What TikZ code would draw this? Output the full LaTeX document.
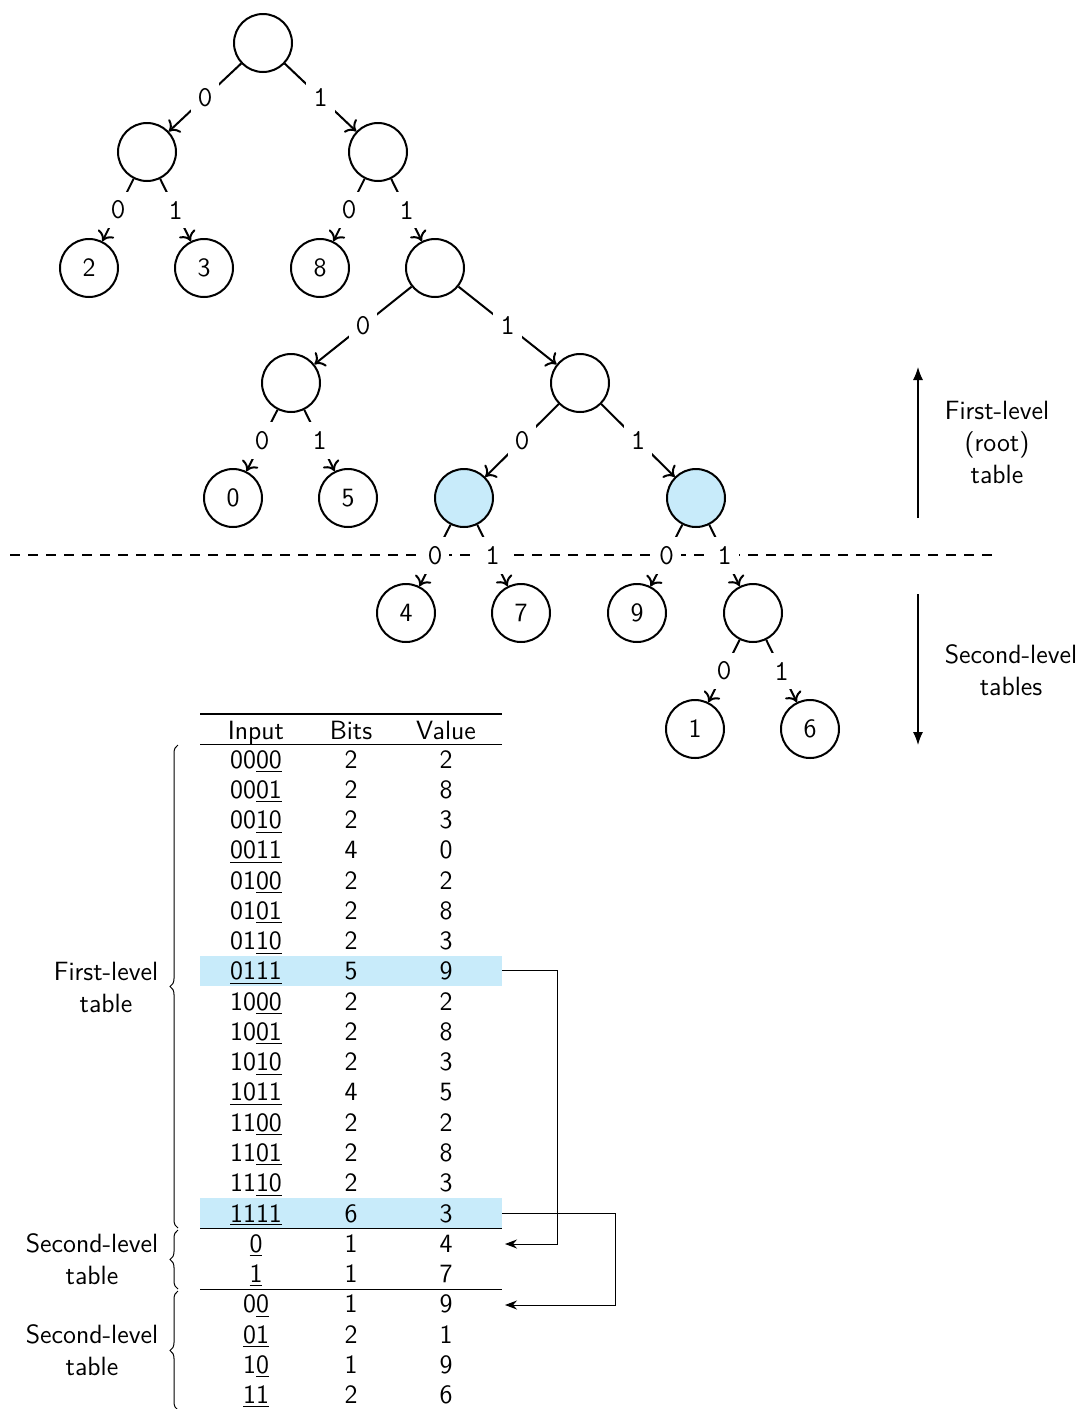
\documentclass[tikz,border=0pt]{standalone}
\usetikzlibrary{arrows.meta,decorations.pathreplacing}
\definecolor{hl}{RGB}{200,235,250}
\begin{document}
\begin{tikzpicture}[x=0.5pt,y=-0.5pt,
  every node/.style={font=\fontsize{13.2}{16}\selectfont\sffamily},
  tnode/.style={circle,draw,line width=1pt,minimum size=29pt,inner sep=0pt},
  inode/.style={tnode,fill=hl},
  tedge/.style={line width=1pt,-{To[length=4.5pt,width=9pt]}},
  blbl/.style={fill=white,inner xsep=3.5pt,inner ysep=4.5pt,font=\fontsize{14.5}{16}\selectfont\ttfamily},
  band/.style={fill=hl,inner sep=0pt,minimum width=151pt,minimum height=15.14pt},
  cell/.style={anchor=base,inner sep=0pt},
  tarrow/.style={line width=0.5pt,-{Stealth[length=6pt,width=4.5pt]}},
  varrow/.style={line width=0.6pt,-{Latex[length=6.5pt,width=5pt]}},
  tbrace/.style={line width=0.5pt,decorate,decoration={brace,amplitude=4pt}},
  side/.style={align=center}
]
\useasboundingbox (0,0) rectangle (1084,1409);

% level separator
\coordinate (sepL) at (10,555);
\coordinate (sepR) at (993,555);
\draw[line width=0.8pt,dash pattern=on 5pt off 4pt] (sepL) -- (sepR);

% tree nodes
\node[tnode] (root) at (263,43) {};
\node[tnode] (a)  at (147,152) {};
\node[tnode] (b)  at (378,152) {};
\node[tnode] (l2) at (89,268) {2};
\node[tnode] (l3) at (204,268) {3};
\node[tnode] (l8) at (320,268) {8};
\node[tnode] (c)  at (435,268) {};
\node[tnode] (d)  at (291,383) {};
\node[tnode] (e)  at (580,383) {};
\node[tnode] (l0) at (233,498) {0};
\node[tnode] (l5) at (348,498) {5};
\node[inode] (f)  at (464,498) {};
\node[inode] (g)  at (696,498) {};
\node[tnode] (l4) at (406,613) {4};
\node[tnode] (l7) at (521,613) {7};
\node[tnode] (l9) at (637,613) {9};
\node[tnode] (h)  at (753,613) {};
\node[tnode] (l1) at (695,729) {1};
\node[tnode] (l6) at (810,729) {6};

% tree edges
\foreach \p/\q/\t in {root/a/0,root/b/1,a/l2/0,a/l3/1,b/l8/0,b/c/1,
  c/d/0,c/e/1,d/l0/0,d/l5/1,e/f/0,e/g/1,f/l4/0,f/l7/1,g/l9/0,g/h/1,
  h/l1/0,h/l6/1}
  \draw[tedge] (\p) -- node[blbl] {\t} (\q);

% level markers
\coordinate (u0) at (918,518);
\coordinate (u1) at (918,367);
\coordinate (v0) at (918,594);
\coordinate (v1) at (918,745);
\draw[varrow] (u0) -- (u1);
\draw[varrow] (v0) -- (v1);
\node[side] (firstlbl) at (997,442) {First-level\\(root)\\table};
\node[side] (secondlbl) at (1011,670) {Second-level\\tables};

% highlighted rows
\node[band] (band7) at (351,970.9) {};
\node[band] (band15) at (351,1213.05) {};

% table rules
\draw[line width=1pt] (200,714) -- (502,714);
\draw[line width=0.6pt] (200,744.5) -- (502,744.5);
\draw[line width=0.6pt] (200,1228.5) -- (502,1228.5);
\draw[line width=0.6pt] (200,1289.5) -- (502,1289.5);

% header
\node[cell] (hin) at (256,739) {Input};
\node[cell] (hbits) at (351,739) {Bits};
\node[cell] (hval) at (446,739) {Value};

% table body
\foreach \i/\inp/\bits/\val in {
  0/00\underline{00}/2/2, 1/00\underline{01}/2/8, 2/00\underline{10}/2/3,
  3/\underline{0011}/4/0, 4/01\underline{00}/2/2, 5/01\underline{01}/2/8,
  6/01\underline{10}/2/3, 7/\underline{0111}/5/9, 8/10\underline{00}/2/2,
  9/10\underline{01}/2/8, 10/10\underline{10}/2/3, 11/\underline{1011}/4/5,
  12/11\underline{00}/2/2, 13/11\underline{01}/2/8, 14/11\underline{10}/2/3,
  15/\underline{1111}/6/3, 16/\underline{0}/1/4, 17/\underline{1}/1/7,
  18/0\underline{0}/1/9, 19/\underline{01}/2/1, 20/1\underline{0}/1/9,
  21/\underline{11}/2/6}{
  \pgfmathsetmacro\yy{768+30.27*\i}
  \node[cell] (in\i) at (256,\yy) {\inp};
  \node[cell] (bits\i) at (351,\yy) {\bits};
  \node[cell] (val\i) at (446,\yy) {\val};
}

% links to second-level tables
\coordinate (t1) at (505,1244);
\coordinate (t2) at (505,1305);
\draw[tarrow] (band7.east) -- ++(55,0) |- (t1);
\draw[tarrow] (band15.east) -- ++(113,0) |- (t2);

% braces
\draw[tbrace] (178,1228) -- (178,745);
\draw[tbrace] (178,1289) -- (178,1230);
\draw[tbrace] (178,1410) -- (178,1291);
\node[side] (b1lbl) at (106,987) {First-level\\table};
\node[side] (b2lbl) at (92,1259) {Second-level\\table};
\node[side] (b3lbl) at (92,1350) {Second-level\\table};
\end{tikzpicture}
\end{document}
